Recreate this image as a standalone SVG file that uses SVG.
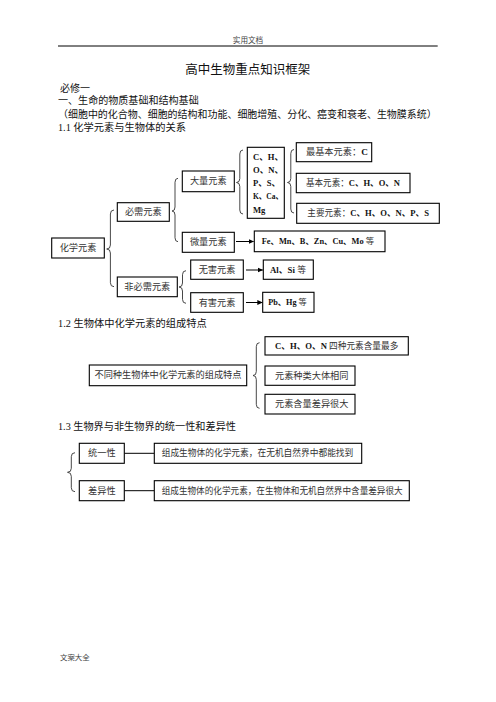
<svg xmlns="http://www.w3.org/2000/svg" width="496" height="702" viewBox="0 0 496 702">
<style>
.bx{fill:#fff;stroke:#000;stroke-width:1.1}
.br{fill:none;stroke:#333;stroke-width:0.9}
.ln{fill:none;stroke:#000;stroke-width:1}
.t{font-family:"Liberation Serif","Noto Sans CJK SC",serif;font-size:9.2px;fill:#333;dominant-baseline:central}
.m{text-anchor:middle}
.h{font-family:"Liberation Serif","Noto Sans CJK SC",serif;font-size:10px;fill:#111;dominant-baseline:central}
.bd{font-weight:bold;fill:#111}
</style>
<defs>
<marker id="ah" markerWidth="6" markerHeight="6" refX="5" refY="3" orient="auto" markerUnits="userSpaceOnUse">
<path d="M0,0.6 L5.5,3 L0,5.4 Z" fill="#000"/>
</marker>
</defs>
<rect width="496" height="702" fill="#fff"/>

<g id="header">
<text x="248" y="40.7" class="h m" style="font-size:7.6px;fill:#444">实用文档</text>
<line x1="58" y1="46" x2="437.7" y2="46" stroke="#000" stroke-width="1"/>
<text x="247.7" y="70" class="h m" style="font-size:12.5px">高中生物重点知识框架</text>
<text x="60" y="88.3" class="h">必修一</text>
<text x="58" y="100.3" class="h" textLength="140.7" lengthAdjust="spacingAndGlyphs">一、生命的物质基础和结构基础</text>
<text x="58" y="114.3" class="h" textLength="378.7" lengthAdjust="spacingAndGlyphs">（细胞中的化合物、细胞的结构和功能、细胞增殖、分化、癌变和衰老、生物膜系统）</text>
<text x="58" y="127.7" class="h" textLength="128" lengthAdjust="spacingAndGlyphs">1.1 化学元素与生物体的关系</text>
<text x="58" y="323.3" class="h" textLength="148.7" lengthAdjust="spacingAndGlyphs">1.2 生物体中化学元素的组成特点</text>
<text x="58" y="426.7" class="h" textLength="178" lengthAdjust="spacingAndGlyphs">1.3 生物界与非生物界的统一性和差异性</text>
<text x="60" y="657" class="h" style="font-size:7.4px;fill:#444">文案大全</text>
</g>

<g id="connectors">
<path class="br" d="M114,210 Q110.4,210 110.4,214 L110.4,245 Q110.4,249 106.7,249 Q110.4,249 110.4,253 L110.4,282.7 Q110.4,286.7 114,286.7"/>
<path class="br" d="M178,178.3 Q175,178.3 175,182.3 L175,207 Q175,211 172,211 Q175,211 175,215 L175,237.7 Q175,241.7 178,241.7"/>
<path class="br" d="M186,270.7 Q182.5,270.7 182.5,274.7 L182.5,283 Q182.5,287 179,287 Q182.5,287 182.5,291 L182.5,299.3 Q182.5,303.3 186,303.3"/>
<path class="br" d="M243,150 Q239.8,150 239.8,154 L239.8,178.5 Q239.8,182.5 236.5,182.5 Q239.8,182.5 239.8,186.5 L239.8,210 Q239.8,214 243,214"/>
<path class="br" d="M294,149.5 Q290.8,149.5 290.8,153.5 L290.8,178.5 Q290.8,182.5 287.5,182.5 Q290.8,182.5 290.8,186.5 L290.8,209 Q290.8,213 294,213"/>
<path class="br" d="M259.5,342.7 Q256.3,342.7 256.3,346.7 L256.3,371.5 Q256.3,375.5 253,375.5 Q256.3,375.5 256.3,379.5 L256.3,404.3 Q256.3,408.3 259.5,408.3"/>
<path class="br" d="M75,452.7 Q71.3,452.7 71.3,456.7 L71.3,468.3 Q71.3,472.3 67.5,472.3 Q71.3,472.3 71.3,476.3 L71.3,487.7 Q71.3,491.7 75,491.7"/>
<line class="ln" x1="236" y1="241.5" x2="253.5" y2="241.5" marker-end="url(#ah)"/>
<line class="ln" x1="246" y1="270" x2="262.7" y2="270" marker-end="url(#ah)"/>
<line class="ln" x1="246" y1="302.5" x2="262.3" y2="302.5" marker-end="url(#ah)"/>
<line class="ln" x1="124.3" y1="453.3" x2="154.3" y2="453.3"/>
<line class="ln" x1="124.3" y1="490.7" x2="154.3" y2="490.7"/>
</g>

<g id="n-huaxue"><rect class="bx" x="51.7" y="238" width="52.6" height="20"/><text class="t m" x="78" y="248">化学元素</text></g>
<g id="n-bixu"><rect class="bx" x="117.3" y="202.7" width="52" height="18.6"/><text class="t m" x="143.3" y="212">必需元素</text></g>
<g id="n-daliang"><rect class="bx" x="182.3" y="171" width="52" height="20.7"/><text class="t m" x="208.3" y="181.3">大量元素</text></g>
<g id="n-weiliang"><rect class="bx" x="182.3" y="232.3" width="52" height="20"/><text class="t m" x="208.3" y="242.3">微量元素</text></g>
<g id="n-feibixu"><rect class="bx" x="117.3" y="277" width="60" height="19.7"/><text class="t m" x="147.3" y="287">非必需元素</text></g>
<g id="n-wuhai"><rect class="bx" x="190.7" y="260" width="52.6" height="19.3"/><text class="t m" x="217" y="269.7">无害元素</text></g>
<g id="n-youhai"><rect class="bx" x="190.7" y="292.7" width="52.6" height="19.6"/><text class="t m" x="217" y="302.5">有害元素</text></g>
<g id="n-chon"><rect class="bx" x="247.3" y="147.3" width="37" height="71"/>
<text class="t bd" x="253" y="156.7" style="font-size:8.6px">C、H、</text>
<text class="t bd" x="253" y="170" style="font-size:8.6px">O、N、</text>
<text class="t bd" x="253" y="182.7" style="font-size:8.6px">P、S、</text>
<text class="t bd" x="253" y="196" style="font-size:8.6px" textLength="30" lengthAdjust="spacingAndGlyphs">K、Ca、</text>
<text class="t bd" x="253" y="210" style="font-size:8.6px">Mg</text></g>
<g id="n-zuijiben"><rect class="bx" x="296.3" y="142.7" width="75.4" height="19"/><text class="t" x="306" y="152.2">最基本元素：<tspan class="bd">C</tspan></text></g>
<g id="n-jiben"><rect class="bx" x="296.3" y="173.3" width="113.7" height="19.4"/><text class="t" x="306" y="183" textLength="94" lengthAdjust="spacingAndGlyphs">基本元素：<tspan class="bd">C、H、O、N</tspan></text></g>
<g id="n-zhuyao"><rect class="bx" x="296.7" y="203.3" width="142.6" height="20"/><text class="t" x="307.3" y="213.3" textLength="121.7" lengthAdjust="spacingAndGlyphs">主要元素：<tspan class="bd">C、H、O、N、P、S</tspan></text></g>
<g id="n-fe"><rect class="bx" x="254.3" y="231" width="130.7" height="20.7"/><text class="t" x="261.7" y="241.3" style="font-size:8.4px"><tspan class="bd">Fe、Mn、B、Zn、Cu、Mo</tspan> 等</text></g>
<g id="n-alsi"><rect class="bx" x="263.3" y="260" width="50" height="19.3"/><text class="t" x="270" y="269.7" style="font-size:8.8px"><tspan class="bd">Al、Si</tspan> 等</text></g>
<g id="n-pbhg"><rect class="bx" x="262.7" y="292.3" width="51.3" height="20"/><text class="t" x="268.3" y="302.3" style="font-size:8.2px"><tspan class="bd">Pb、Hg</tspan> 等</text></g>

<g id="n-tezheng"><rect class="bx" x="89.3" y="365" width="157.4" height="20.7"/><text class="t m" x="168" y="375.3">不同种生物体中化学元素的组成特点</text></g>
<g id="n-chon4"><rect class="bx" x="265" y="336.7" width="143.3" height="18.3"/><text class="t" x="275" y="345.8" textLength="123.3" lengthAdjust="spacingAndGlyphs"><tspan class="bd">C、H、O、N</tspan> 四种元素含量最多</text></g>
<g id="n-zhonglei"><rect class="bx" x="265" y="366" width="90" height="19.3"/><text class="t" x="275" y="375.7">元素种类大体相同</text></g>
<g id="n-hanliang"><rect class="bx" x="265" y="394.3" width="90" height="19.7"/><text class="t" x="275" y="404.2">元素含量差异很大</text></g>

<g id="n-tongyi"><rect class="bx" x="79.3" y="443.3" width="45" height="20"/><text class="t m" x="101.8" y="453.3">统一性</text></g>
<g id="n-tongyi-d"><rect class="bx" x="154.3" y="443.3" width="207.4" height="20"/><text class="t" x="161.7" y="453.3" textLength="191.6" lengthAdjust="spacingAndGlyphs">组成生物体的化学元素，在无机自然界中都能找到</text></g>
<g id="n-chayi"><rect class="bx" x="79.3" y="480.7" width="45" height="20"/><text class="t m" x="101.8" y="490.7">差异性</text></g>
<g id="n-chayi-d"><rect class="bx" x="154.3" y="480.7" width="255" height="20"/><text class="t" x="161.7" y="490.7" textLength="241" lengthAdjust="spacingAndGlyphs">组成生物体的化学元素，在生物体和无机自然界中含量差异很大</text></g>
</svg>
